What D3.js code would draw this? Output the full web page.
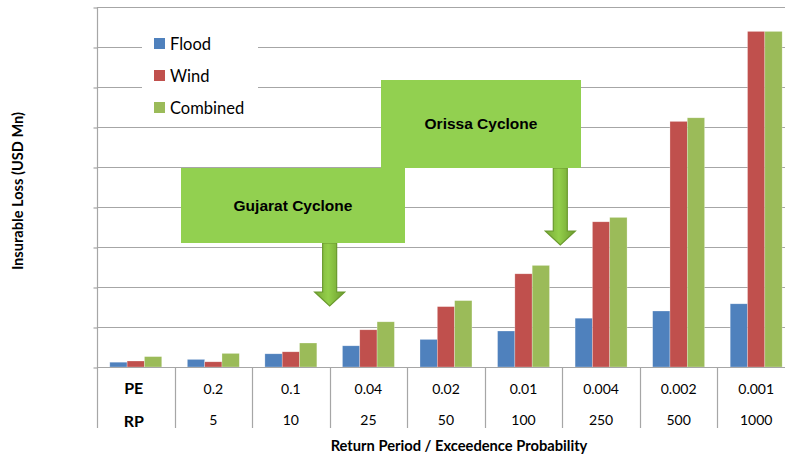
<!DOCTYPE html>
<html>
<head>
<meta charset="utf-8">
<script src="https://cdn.jsdelivr.net/npm/d3@7"></script>
<style>
  html, body { margin: 0; padding: 0; background: #fff; }
  svg { display: block; }
</style>
</head>
<body>
<svg id="chart" width="785" height="456"></svg>
<script>
// Exceedance probabilities and matching return periods (first column holds the row headers)
const peLabels = ["PE", "0.2", "0.1", "0.04", "0.02", "0.01", "0.004", "0.002", "0.001"];
const rpLabels = ["RP", "5", "10", "25", "50", "100", "250", "500", "1000"];
const seriesNames = ["Flood", "Wind", "Combined"];

// Insurable loss per return period (USD Mn)
const flood    = [12, 19, 33, 53, 69, 90, 122, 140, 158];
const wind     = [15, 13, 38, 93, 151, 233, 363, 614, 839];
const combined = [26, 34, 60, 113, 166, 254, 374, 623, 839];

const yTicks = [0, 100, 200, 300, 400, 500, 600, 700, 800, 900];
const colors = ["#4F81BD", "#C0504D", "#9BBB59"];

const svg = d3.select("#chart");
const W = 785;
const left = 97, plotTop = 7, base = 367, tableBottom = 428;
const step = 77.55;

const values = [flood, wind, combined];

const col = d3.scaleBand().domain(peLabels).range([left, left + step * peLabels.length]).padding(0);
const x0 = d3.scaleBand().domain(peLabels).range([left, left + step * peLabels.length])
  .paddingInner(0.33).paddingOuter(0.165);
const x1 = d3.scaleBand().domain(seriesNames).range([0, x0.bandwidth()]);
const y = d3.scaleLinear().domain([0, 900]).range([base, plotTop]);

// Horizontal gridlines
svg.append("g").selectAll("line").data(yTicks.filter(d => d > 0)).join("line")
  .attr("x1", left).attr("x2", W)
  .attr("y1", d => Math.round(y(d)) + 0.5).attr("y2", d => Math.round(y(d)) + 0.5)
  .attr("stroke", "#a6a6a6").attr("stroke-width", 1.2);

// Left axis with outward ticks
const yAxis = d3.axisLeft(y).tickValues(yTicks).tickSize(4).tickSizeOuter(0).tickFormat("");
const ag = svg.append("g").attr("transform", `translate(${left + 0.5},0)`).call(yAxis);
ag.select(".domain").remove();
ag.selectAll(".tick line").attr("stroke", "#a6a6a6").attr("stroke-width", 1.2)
  .attr("transform", "translate(0,0.5)");
svg.append("line").attr("x1", left + 0.5).attr("x2", left + 0.5)
  .attr("y1", plotTop).attr("y2", tableBottom)
  .attr("stroke", "#a6a6a6").attr("stroke-width", 1.2);

// Bars
const groups = svg.append("g").selectAll("g").data(peLabels).join("g")
  .attr("transform", d => `translate(${x0(d)},0)`);
groups.selectAll("rect")
  .data((d, i) => seriesNames.map((s, k) => ({ s, k, v: values[k][i] })))
  .join("rect")
  .attr("x", d => x1(d.s))
  .attr("width", x1.bandwidth())
  .attr("y", d => y(d.v))
  .attr("height", d => base - y(d.v))
  .attr("fill", d => colors[d.k])
  .attr("stroke", "rgba(255,255,255,0.45)").attr("stroke-width", 0.6);

// Data table below the axis
svg.append("line").attr("x1", left).attr("x2", W)
  .attr("y1", base + 0.5).attr("y2", base + 0.5)
  .attr("stroke", "#a6a6a6").attr("stroke-width", 1.2);
svg.append("g").selectAll("line").data(peLabels.slice(1)).join("line")
  .attr("x1", d => Math.round(col(d)) + 0.5).attr("x2", d => Math.round(col(d)) + 0.5)
  .attr("y1", base).attr("y2", tableBottom)
  .attr("stroke", "#a6a6a6").attr("stroke-width", 1.2);

const cellFont = "Lato, 'Open Sans', sans-serif";
svg.append("g").selectAll("text").data(peLabels).join("text")
  .attr("x", d => col(d) + col.bandwidth() / 2 + (d === "PE" ? -2 : 0))
  .attr("y", 394)
  .attr("text-anchor", "middle")
  .attr("font-family", cellFont)
  .attr("font-size", (d, i) => i === 0 ? 16 : 14)
  .attr("font-weight", (d, i) => i === 0 ? "bold" : "normal")
  .attr("fill", "#000")
  .text(d => d);
svg.append("g").selectAll("text").data(rpLabels).join("text")
  .attr("x", (d, i) => col(peLabels[i]) + col.bandwidth() / 2 + (i === 0 ? -2 : 0))
  .attr("y", (d, i) => i === 0 ? 427 : 425)
  .attr("text-anchor", "middle")
  .attr("font-family", cellFont)
  .attr("font-size", (d, i) => i === 0 ? 16 : 14)
  .attr("font-weight", (d, i) => i === 0 ? "bold" : "normal")
  .attr("fill", "#000")
  .text(d => d);

// Axis titles
svg.append("text")
  .attr("x", 459).attr("y", 451)
  .attr("text-anchor", "middle")
  .attr("font-family", cellFont).attr("font-weight", "bold").attr("font-size", 14.7)
  .text("Return Period / Exceedence Probability");
svg.append("text")
  .attr("transform", "translate(23,191) rotate(-90)")
  .attr("text-anchor", "middle")
  .attr("font-family", cellFont).attr("font-weight", "bold").attr("font-size", 14.6)
  .text("Insurable Loss (USD Mn)");

// Legend
const lg = svg.append("g");
lg.append("rect").attr("x", 142).attr("y", 27).attr("width", 116).attr("height", 94).attr("fill", "#fff");
const li = lg.selectAll("g").data(seriesNames).join("g")
  .attr("transform", (d, i) => `translate(154,${38 + i * 32})`);
li.append("rect").attr("width", 11).attr("height", 11).attr("fill", (d, i) => colors[i]);
li.append("text").attr("x", 16).attr("y", 11.5)
  .attr("font-family", cellFont).attr("font-size", 16.5).attr("fill", "#000")
  .text(d => d);

// Event annotations: labelled boxes with arrows pointing at the table columns
const defs = svg.append("defs");
const grad = defs.append("linearGradient").attr("id", "arrowGrad")
  .attr("x1", "0%").attr("x2", "100%").attr("y1", "0%").attr("y2", "0%");
grad.append("stop").attr("offset", "0%").attr("stop-color", "#78a935");
grad.append("stop").attr("offset", "45%").attr("stop-color", "#93cf4a");
grad.append("stop").attr("offset", "100%").attr("stop-color", "#6c9b2d");

const events = [
  { name: "Gujarat Cyclone", box: [181, 168, 224, 75], at: "0.04", dx: 0, shaftTop: 243, headTop: 292, tip: 306 },
  { name: "Orissa Cyclone", box: [381, 80, 200, 88], at: "0.004", dx: -2, shaftTop: 168, headTop: 231, tip: 245 }
];

events.forEach(e => {
  const cx = col(e.at) + e.dx;
  const sw = 7, hw = 15;
  const path = d3.path();
  path.moveTo(cx - sw, e.shaftTop);
  path.lineTo(cx + sw, e.shaftTop);
  path.lineTo(cx + sw, e.headTop);
  path.lineTo(cx + hw, e.headTop);
  path.lineTo(cx, e.tip);
  path.lineTo(cx - hw, e.headTop);
  path.lineTo(cx - sw, e.headTop);
  path.closePath();
  svg.append("path").attr("d", path.toString())
    .attr("fill", "url(#arrowGrad)").attr("stroke", "#6a9a2e").attr("stroke-width", 1.2)
    .attr("stroke-linejoin", "miter");
});

events.forEach(e => {
  const [bx, by, bw, bh] = e.box;
  svg.append("rect").attr("x", bx).attr("y", by).attr("width", bw).attr("height", bh)
    .attr("fill", "#92D050");
  svg.append("text")
    .attr("x", bx + bw / 2)
    .attr("y", by + bh / 2 + 5)
    .attr("text-anchor", "middle")
    .attr("font-family", "'Liberation Sans', Arial, sans-serif")
    .attr("font-weight", "bold").attr("font-size", 15.5).attr("fill", "#000")
    .text(e.name);
});
</script>
</body>
</html>
